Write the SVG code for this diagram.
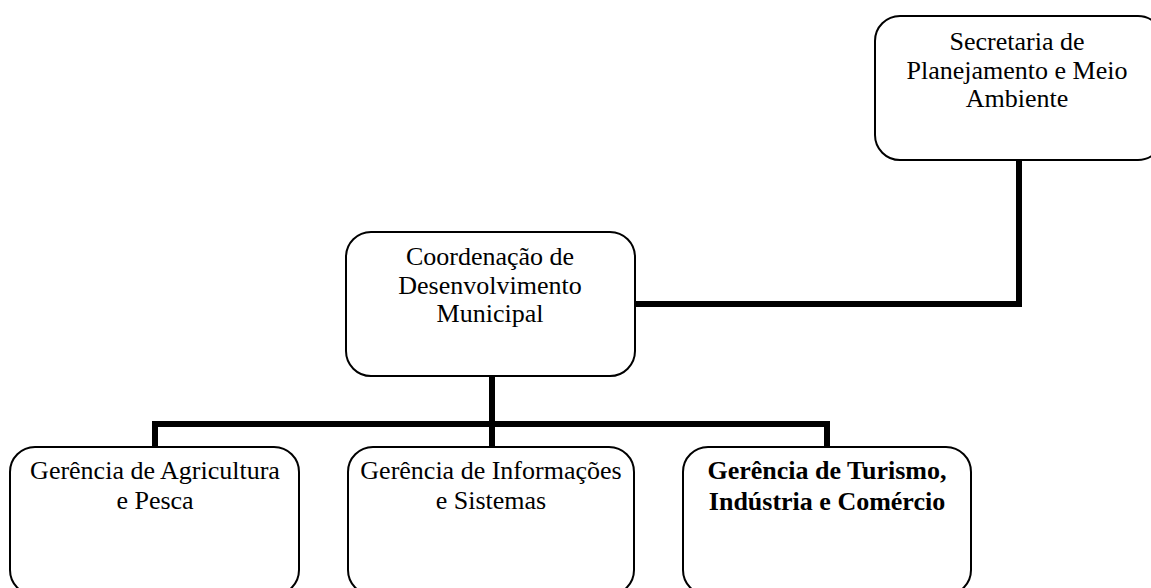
<svg xmlns="http://www.w3.org/2000/svg" width="1151" height="588" viewBox="0 0 1151 588">
<style>
.box{fill:#fff;stroke:#000;stroke-width:2}
.t{font-family:"Liberation Serif","Times New Roman",serif;font-size:26px;fill:#000;text-anchor:middle}
.b{font-weight:bold}
.c{fill:none;stroke:#000;stroke-width:6;stroke-linejoin:miter}
</style>
<rect width="1151" height="588" fill="#fff"/>
<g id="connectors">
<path class="c" d="M1019,160 V304 H635"/>
<path class="c" d="M492,376 V447"/>
<path class="c" d="M155,447 V424 H827 V447"/>
</g>
<g id="secretaria">
<rect class="box" x="875" y="16" width="288" height="144" rx="25"/>
<text class="t" x="1017" y="50">Secretaria de</text>
<text class="t" x="1017" y="79">Planejamento e Meio</text>
<text class="t" x="1017" y="107">Ambiente</text>
</g>
<g id="coordenacao">
<rect class="box" x="346" y="232" width="289" height="144" rx="25"/>
<text class="t" x="490" y="265">Coordenação de</text>
<text class="t" x="490" y="294">Desenvolvimento</text>
<text class="t" x="490" y="322">Municipal</text>
</g>
<g id="agricultura">
<rect class="box" x="10" y="447" width="289" height="148" rx="25"/>
<text class="t" x="155" y="479">Gerência de Agricultura</text>
<text class="t" x="155" y="509">e Pesca</text>
</g>
<g id="informacoes">
<rect class="box" x="348" y="447" width="286" height="148" rx="25"/>
<text class="t" x="491" y="479">Gerência de Informações</text>
<text class="t" x="491" y="509">e Sistemas</text>
</g>
<g id="turismo">
<rect class="box" x="683" y="447" width="288" height="148" rx="25"/>
<text class="t b" x="827" y="479">Gerência de Turismo,</text>
<text class="t b" x="827" y="510">Indústria e Comércio</text>
</g>
</svg>
